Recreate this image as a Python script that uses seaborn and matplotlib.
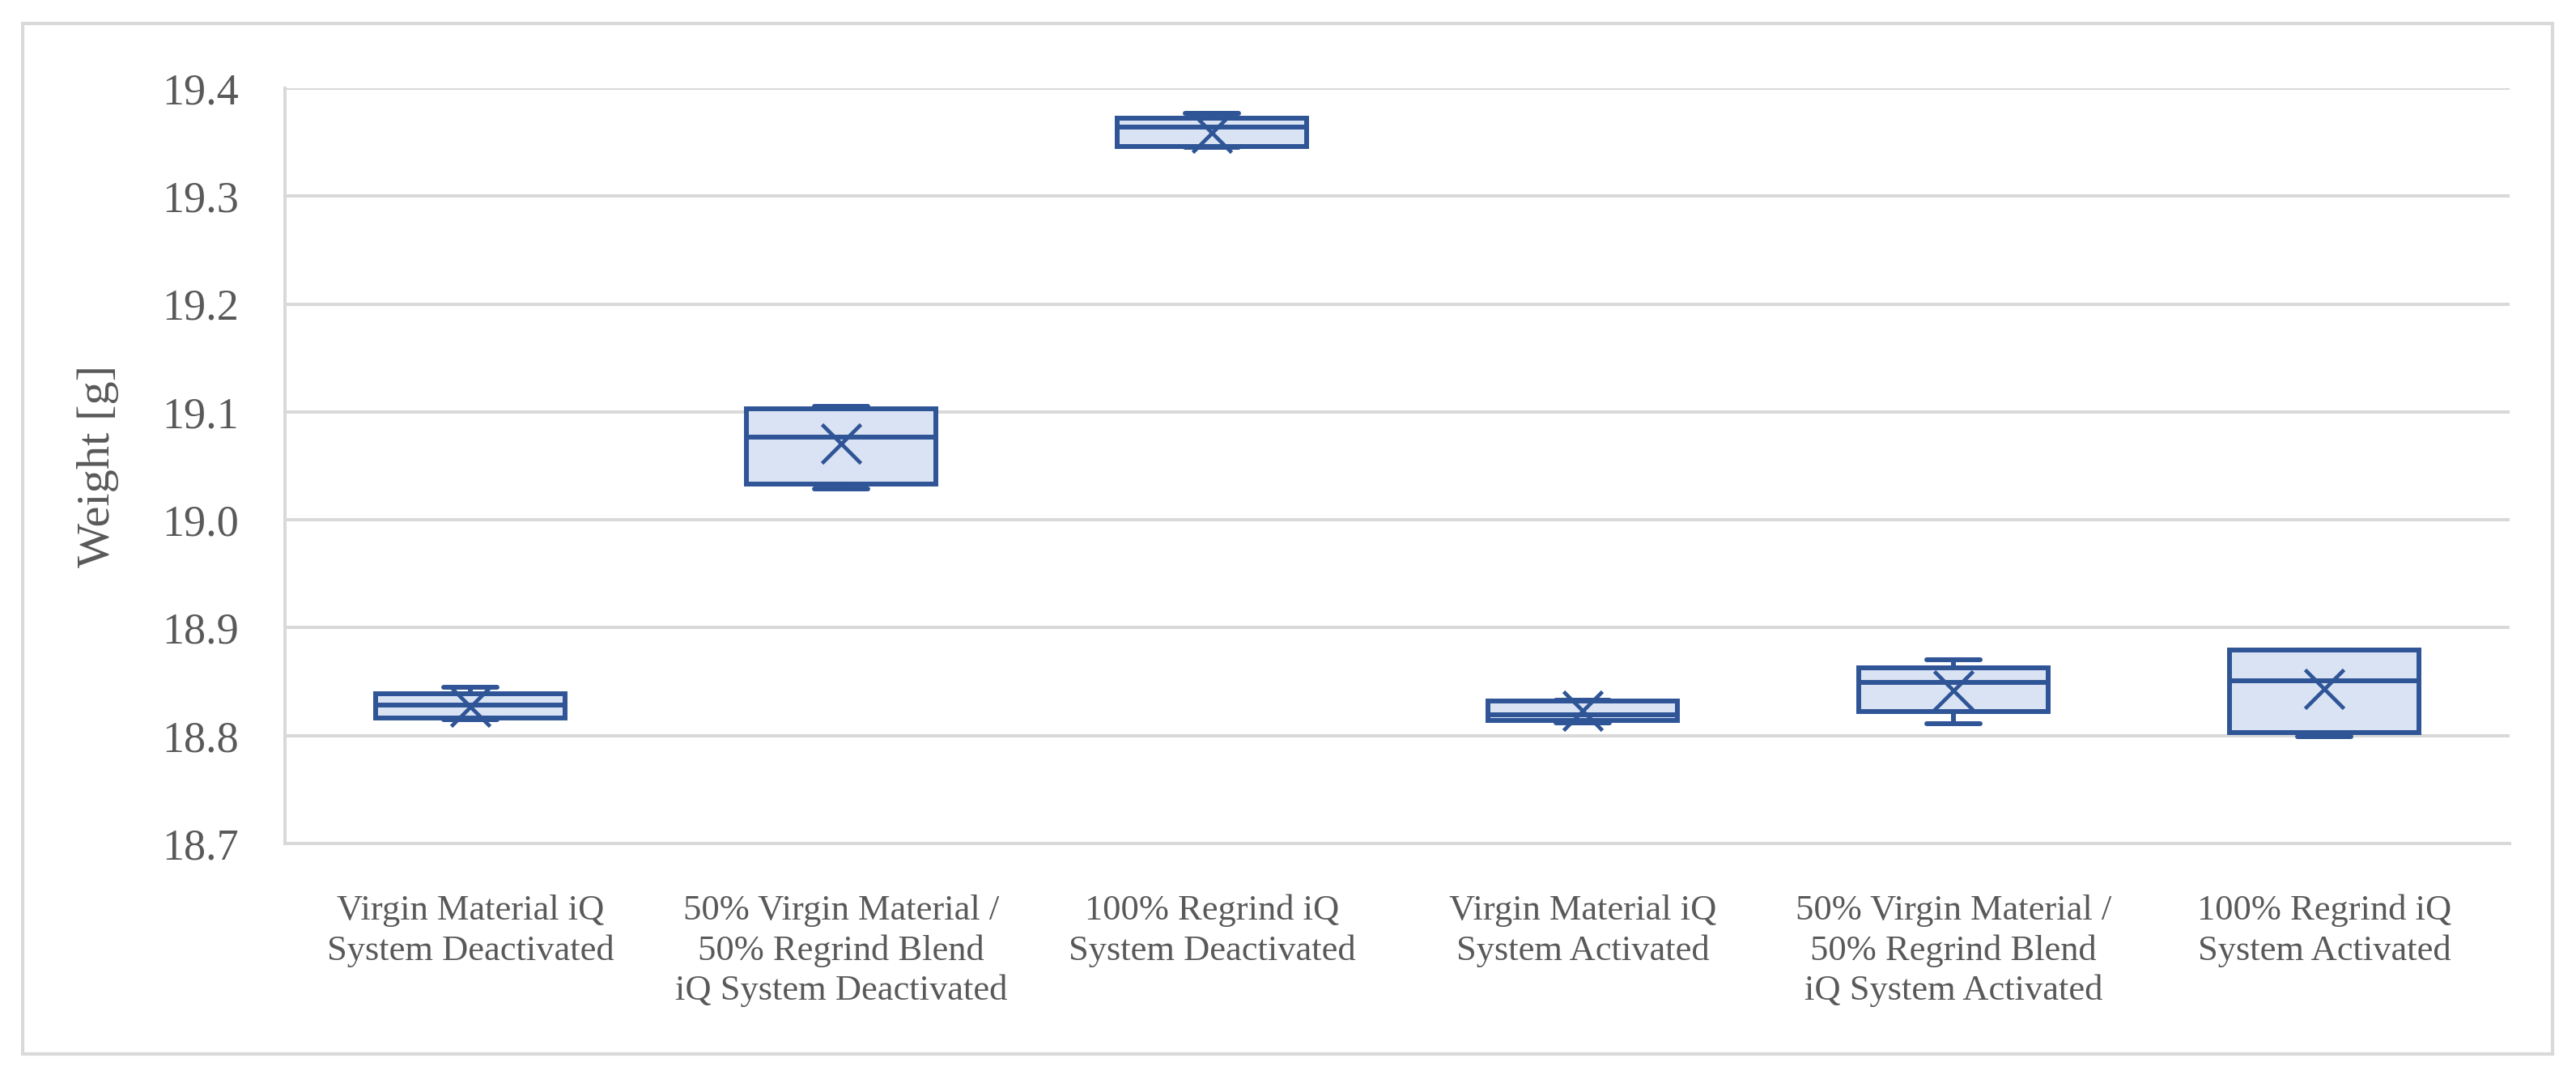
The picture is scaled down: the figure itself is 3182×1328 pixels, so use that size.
import pandas as pd
import matplotlib.pyplot as plt
import matplotlib.patches as mpatches
import seaborn as sns

# groups shown on the x axis (two-line labels as in the figure)
groups = [
    "Virgin Material iQ\nSystem Deactivated",
    "50% Virgin Material /\n50% Regrind Blend\niQ System Deactivated",
    "100% Regrind iQ\nSystem Deactivated",
    "Virgin Material iQ\nSystem Activated",
    "50% Virgin Material /\n50% Regrind Blend\niQ System Activated",
    "100% Regrind iQ\nSystem Activated",
]

# part weights [g]
virgin_off = [18.815, 18.815, 18.816, 18.817, 18.828, 18.828, 18.839, 18.840, 18.845]
blend_off = [19.029, 19.031, 19.033, 19.067, 19.077, 19.090, 19.103, 19.104, 19.105]
regrind_off = [19.345, 19.345, 19.346, 19.346, 19.364, 19.364, 19.372, 19.372, 19.377]
virgin_on = [18.812, 18.814, 18.814, 18.819, 18.819, 18.832, 18.832, 18.832, 18.833]
blend_on = [18.811, 18.818, 18.822, 18.827, 18.849, 18.852, 18.863, 18.866, 18.870]
regrind_on = [18.799, 18.801, 18.803, 18.836, 18.851, 18.860, 18.879, 18.879, 18.879]

yticks = [18.7, 18.8, 18.9, 19.0, 19.1, 19.2, 19.3, 19.4]

series = [virgin_off, blend_off, regrind_off, virgin_on, blend_on, regrind_on]
df = pd.DataFrame({
    "group": [g for g, vals in zip(groups, series) for _ in vals],
    "weight": [v for vals in series for v in vals],
})

sns.set_style("white")
plt.rcParams["font.family"] = ["Liberation Serif", "DejaVu Serif"]

edge = "#2F5597"
fill = "#DAE3F3"
grid = "#D9D9D9"
text = "#595959"

fig = plt.figure(figsize=(31.82, 13.28), dpi=100)
ax = fig.add_axes([0.1106, 0.2153, 0.8636, 0.7026])

sns.boxplot(
    data=df, x="group", y="weight", order=groups, ax=ax,
    color=fill, linecolor=edge, linewidth=4.3, saturation=1,
    width=0.51, whis=(0, 100), capwidths=0.144,
    showmeans=True,
    meanprops=dict(marker="x", markersize=34, markeredgecolor=edge,
                   markeredgewidth=3.4),
)

ax.set_ylim(18.7, 19.4)
ax.set_yticks(yticks)
ax.set_yticklabels([f"{t:.1f}" for t in yticks])
ax.yaxis.grid(True, color=grid, linewidth=2.9)
ax.set_axisbelow(True)
ax.set_xlabel("")
ax.set_ylabel("Weight [g]", fontsize=42, color=text)
ax.yaxis.set_label_coords(-0.0746, 0.5)

ax.tick_params(axis="y", labelsize=39, labelcolor=text, length=0, pad=41)
ax.tick_params(axis="x", labelsize=32, labelcolor=text, length=0, pad=45)
for lab in ax.get_xticklabels():
    lab.set_linespacing(1.3)

for side in ["top", "right"]:
    ax.spines[side].set_visible(False)
for side in ["left", "bottom"]:
    ax.spines[side].set_color(grid)
    ax.spines[side].set_linewidth(2.9)

# light outer frame around the chart area
fig.add_artist(mpatches.Rectangle(
    (28 / 3182, 1 - 1302 / 1328), (3153 - 28) / 3182, (1302 - 29) / 1328,
    transform=fig.transFigure, fill=False, edgecolor=grid, linewidth=3))

fig.savefig("out.png", dpi=100, facecolor="white")
